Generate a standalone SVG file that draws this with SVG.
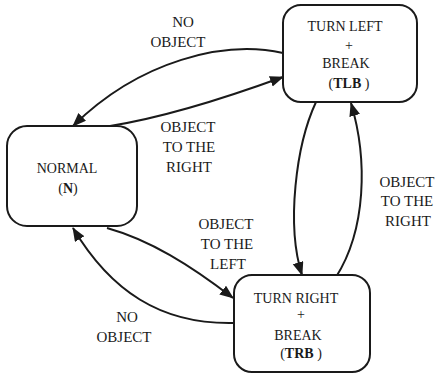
<svg xmlns="http://www.w3.org/2000/svg" width="436" height="379" viewBox="0 0 436 379">
  <style>
    .box { fill: #fff; stroke: #1a1a1a; stroke-width: 2; }
    .edge { fill: none; stroke: #1a1a1a; stroke-width: 2; marker-end: url(#arrow); }
    .b { font-weight: bold; }
  </style>
  <defs>
    <marker id="arrow" markerUnits="userSpaceOnUse" markerWidth="16" markerHeight="12" refX="13" refY="5.5" orient="auto">
      <path d="M0,0 L14,5.5 L0,11 z" fill="#1a1a1a"/>
    </marker>
  </defs>
  <rect width="436" height="379" fill="#fff"/>

  <!-- connectors -->
  <g id="connectors">
    <path class="edge" d="M283,53 C225,40 140,60 73,126"/>
    <path class="edge" d="M110,126 C160,118 220,100 283,77"/>
    <path class="edge" d="M316,102 C296,145 286,225 302,275"/>
    <path class="edge" d="M336,277 C366,230 368,160 351,103"/>
    <path class="edge" d="M107,228 C150,240 190,265 233,298"/>
    <path class="edge" d="M235,323 C160,325 110,290 73,228"/>
  </g>

  <g font-family="Liberation Serif, Times New Roman, DejaVu Serif, serif" font-size="14" fill="#1a1a1a" text-anchor="middle">
    <!-- connector labels -->
    <g id="labels" font-size="15">
      <text x="183" y="27">NO</text>
      <text x="178" y="47">OBJECT</text>
      <text x="188" y="132">OBJECT</text>
      <text x="189" y="152">TO THE</text>
      <text x="189" y="172">RIGHT</text>
      <text x="407" y="187">OBJECT</text>
      <text x="407" y="206">TO THE</text>
      <text x="408" y="226">RIGHT</text>
      <text x="226" y="229">OBJECT</text>
      <text x="227" y="249">TO THE</text>
      <text x="228" y="269">LEFT</text>
      <text x="127" y="322">NO</text>
      <text x="124" y="342">OBJECT</text>
    </g>

    <!-- states -->
    <g id="normal">
      <rect class="box" x="7" y="126" width="130" height="100" rx="20"/>
      <text x="67" y="173">NORMAL</text>
      <text x="68" y="193">(<tspan class="b">N</tspan>)</text>
    </g>
    <g id="tlb">
      <rect class="box" x="283" y="5" width="134" height="97" rx="18"/>
      <text x="345" y="31">TURN LEFT</text>
      <text x="349" y="50">+</text>
      <text x="346" y="68">BREAK</text>
      <text x="349" y="88">(<tspan class="b">TLB</tspan> )</text>
    </g>
    <g id="trb">
      <rect class="box" x="234" y="275" width="136" height="97" rx="18"/>
      <text x="296" y="303">TURN RIGHT</text>
      <text x="301" y="319">+</text>
      <text x="298" y="340">BREAK</text>
      <text x="301" y="358">(<tspan class="b">TRB</tspan> )</text>
    </g>
  </g>
</svg>
